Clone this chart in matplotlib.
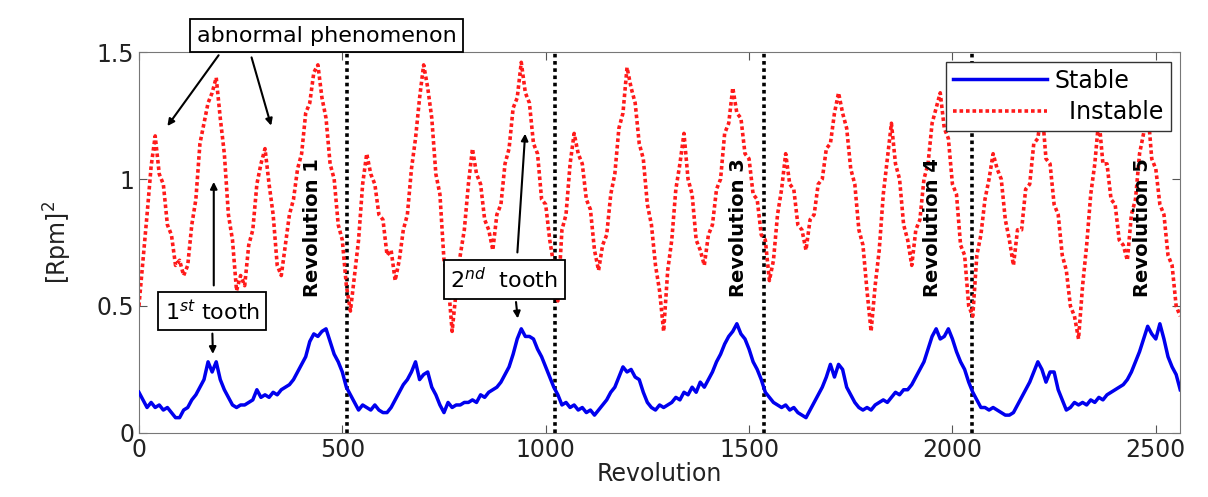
import numpy as np
import matplotlib.pyplot as plt

# revolution axis, one sample every 10 revolutions
revolution = np.arange(0, 2561, 10)

stable = [
    0.16, 0.13, 0.10, 0.12, 0.10, 0.11, 0.09, 0.10, 0.08, 0.06,
    0.06, 0.09, 0.10, 0.13, 0.15, 0.18, 0.21, 0.28, 0.24, 0.28,
    0.21, 0.17, 0.14, 0.11, 0.10, 0.11, 0.11, 0.12, 0.13, 0.17,
    0.14, 0.15, 0.14, 0.16, 0.15, 0.17, 0.18, 0.19, 0.21, 0.24,
    0.27, 0.30, 0.36, 0.39, 0.38, 0.40, 0.41, 0.36, 0.31, 0.28,
    0.24, 0.18, 0.15, 0.12, 0.09, 0.11, 0.10, 0.09, 0.11, 0.09,
    0.08, 0.08, 0.10, 0.13, 0.16, 0.19, 0.21, 0.24, 0.28, 0.21,
    0.23, 0.24, 0.18, 0.15, 0.11, 0.08, 0.12, 0.10, 0.11, 0.11,
    0.12, 0.12, 0.13, 0.12, 0.15, 0.14, 0.16, 0.17, 0.18, 0.20,
    0.23, 0.26, 0.31, 0.37, 0.41, 0.38, 0.38, 0.37, 0.33, 0.30,
    0.26, 0.22, 0.18, 0.15, 0.11, 0.12, 0.10, 0.11, 0.09, 0.10,
    0.08, 0.09, 0.07, 0.09, 0.11, 0.13, 0.16, 0.18, 0.22, 0.26,
    0.24, 0.25, 0.22, 0.21, 0.16, 0.12, 0.10, 0.09, 0.11, 0.10,
    0.11, 0.12, 0.14, 0.13, 0.16, 0.15, 0.18, 0.16, 0.20, 0.18,
    0.21, 0.24, 0.28, 0.31, 0.35, 0.38, 0.40, 0.43, 0.39, 0.37,
    0.33, 0.28, 0.25, 0.21, 0.16, 0.14, 0.12, 0.11, 0.10, 0.11,
    0.09, 0.10, 0.08, 0.07, 0.06, 0.09, 0.12, 0.15, 0.18, 0.22,
    0.27, 0.22, 0.27, 0.25, 0.18, 0.15, 0.12, 0.10, 0.09, 0.10,
    0.09, 0.11, 0.12, 0.13, 0.12, 0.14, 0.16, 0.15, 0.17, 0.17,
    0.19, 0.22, 0.25, 0.28, 0.33, 0.38, 0.41, 0.37, 0.38, 0.41,
    0.37, 0.32, 0.28, 0.25, 0.20, 0.16, 0.13, 0.10, 0.10, 0.09,
    0.10, 0.09, 0.08, 0.07, 0.07, 0.08, 0.11, 0.14, 0.17, 0.20,
    0.24, 0.28, 0.25, 0.20, 0.24, 0.24, 0.17, 0.13, 0.09, 0.10,
    0.12, 0.11, 0.12, 0.11, 0.13, 0.12, 0.14, 0.13, 0.15, 0.16,
    0.17, 0.18, 0.19, 0.21, 0.24, 0.28, 0.32, 0.37, 0.42, 0.39,
    0.37, 0.43, 0.37, 0.30, 0.26, 0.23, 0.17,
]

instable = [
    0.50, 0.68, 0.86, 1.05, 1.17, 1.02, 0.98, 0.82, 0.78, 0.66,
    0.68, 0.62, 0.66, 0.82, 0.92, 1.14, 1.22, 1.30, 1.34, 1.40,
    1.24, 1.10, 0.86, 0.76, 0.56, 0.62, 0.58, 0.74, 0.80, 0.98,
    1.06, 1.12, 0.98, 0.86, 0.66, 0.62, 0.74, 0.86, 0.92, 1.04,
    1.10, 1.26, 1.30, 1.42, 1.45, 1.32, 1.24, 1.06, 1.00, 0.82,
    0.76, 0.58, 0.48, 0.62, 0.76, 0.98, 1.10, 1.02, 0.98, 0.86,
    0.84, 0.70, 0.72, 0.60, 0.68, 0.80, 0.86, 1.04, 1.16, 1.32,
    1.45, 1.36, 1.24, 1.02, 0.94, 0.68, 0.60, 0.40, 0.56, 0.70,
    0.80, 0.98, 1.12, 1.02, 0.98, 0.84, 0.80, 0.72, 0.86, 0.90,
    1.06, 1.12, 1.28, 1.32, 1.46, 1.34, 1.30, 1.14, 1.10, 0.92,
    0.90, 0.76, 0.66, 0.52, 0.80, 0.86, 1.06, 1.18, 1.10, 1.06,
    0.92, 0.88, 0.72, 0.64, 0.74, 0.78, 0.94, 1.02, 1.20, 1.26,
    1.44, 1.36, 1.30, 1.14, 1.08, 0.90, 0.82, 0.66, 0.56, 0.40,
    0.64, 0.76, 0.96, 1.06, 1.18, 1.00, 0.94, 0.76, 0.72, 0.66,
    0.78, 0.82, 0.96, 1.00, 1.18, 1.22, 1.36, 1.26, 1.24, 1.10,
    1.08, 0.94, 0.92, 0.78, 0.76, 0.60, 0.68, 0.86, 0.96, 1.10,
    0.98, 0.96, 0.82, 0.80, 0.72, 0.84, 0.86, 0.98, 1.00, 1.12,
    1.14, 1.26, 1.34, 1.26, 1.20, 1.04, 0.98, 0.80, 0.74, 0.56,
    0.40, 0.58, 0.72, 0.94, 1.08, 1.22, 1.06, 1.00, 0.82, 0.76,
    0.66, 0.80, 0.84, 1.00, 1.06, 1.22, 1.28, 1.34, 1.20, 1.16,
    0.98, 0.94, 0.74, 0.70, 0.50, 0.46, 0.70, 0.78, 0.92, 1.00,
    1.10, 1.04, 1.00, 0.84, 0.76, 0.66, 0.80, 0.80, 0.96, 0.98,
    1.14, 1.16, 1.28, 1.08, 1.06, 0.90, 0.86, 0.70, 0.64, 0.50,
    0.46, 0.37, 0.58, 0.74, 0.94, 1.06, 1.24, 1.06, 1.06, 0.92,
    0.90, 0.76, 0.74, 0.68, 0.86, 0.92, 1.10, 1.18, 1.28, 1.08,
    1.04, 0.90, 0.86, 0.70, 0.66, 0.50, 0.46,
]

rev_marks = [512, 1024, 1536, 2048]
rev_labels = ["Revolution 1", "Revolution 3", "Revolution 4", "Revolution 5"]
rev_label_x = [426, 1474, 1951, 2467]

plt.rcParams["font.family"] = "DejaVu Sans"
fig = plt.figure(figsize=(12.08, 4.97), dpi=100)
ax = fig.add_axes([0.115, 0.129, 0.862, 0.766])

for xm in rev_marks:
    ax.axvline(xm, color="black", linestyle=(0, (1, 1)), linewidth=2.6, zorder=1)

ax.plot(revolution, stable, color="#0000ee", linewidth=2.5, label="Stable", zorder=3)
ax.plot(revolution, instable, color="#ff1a1a", linestyle=(0, (1, 0.8)), linewidth=2.6,
        label="  Instable", zorder=2)

for xl, txt in zip(rev_label_x, rev_labels):
    ax.text(xl, 0.81, txt, rotation=90, ha="center", va="center",
            fontsize=14, fontweight="bold", zorder=4)

box = dict(boxstyle="square,pad=0.3", facecolor="white", edgecolor="black", linewidth=1.3)
arrow = dict(arrowstyle="-|>", color="black", lw=1.5, mutation_scale=10)

# abnormal phenomenon box with two arrows
ax.annotate("abnormal phenomenon", xy=(66, 1.20), xytext=(462, 1.565),
            ha="center", va="center", fontsize=16, bbox=box, zorder=6,
            annotation_clip=False,
            arrowprops=dict(arrow, relpos=(0.11, 0.0)))
ax.annotate("", xy=(327, 1.20), xytext=(275, 1.49), annotation_clip=False,
            arrowprops=arrow, zorder=6)

# 1st tooth
ax.annotate("1$^{st}$ tooth", xy=(182, 0.30), xytext=(180, 0.48),
            ha="center", va="center", fontsize=16, bbox=box, zorder=6,
            arrowprops=dict(arrow, relpos=(0.5, 0.0)))
ax.annotate("", xy=(184, 1.0), xytext=(184, 0.57), arrowprops=arrow, zorder=5)

# 2nd tooth
ax.annotate("2$^{nd}$  tooth", xy=(932, 0.44), xytext=(898, 0.605),
            ha="center", va="center", fontsize=16, bbox=box, zorder=6,
            arrowprops=dict(arrow, relpos=(0.6, 0.0)))
ax.annotate("", xy=(950, 1.19), xytext=(930, 0.70), arrowprops=arrow, zorder=5)

ax.set_xlim(0, 2560)
ax.set_ylim(0, 1.5)
ax.set_xticks([0, 500, 1000, 1500, 2000, 2500])
ax.set_yticks([0, 0.5, 1, 1.5])
ax.set_yticklabels(["0", "0.5", "1", "1.5"])
ax.tick_params(direction="in", top=True, right=True, labelsize=17, length=6,
               color="#555555", labelcolor="#222222")
for s in ax.spines.values():
    s.set_color("#777777")
ax.set_xlabel("Revolution", fontsize=17, labelpad=0, color="#222222")
ax.set_ylabel("[Rpm]$^2$", fontsize=17, labelpad=16, color="#222222")

leg = ax.legend(loc="upper right", fontsize=17, handlelength=4.0, handletextpad=0.3,
                borderaxespad=0.4, fancybox=False, framealpha=1, edgecolor="#333333",
                borderpad=0.3, labelspacing=0.3)
leg.set_zorder(10)

plt.savefig("out.png", dpi=100)
